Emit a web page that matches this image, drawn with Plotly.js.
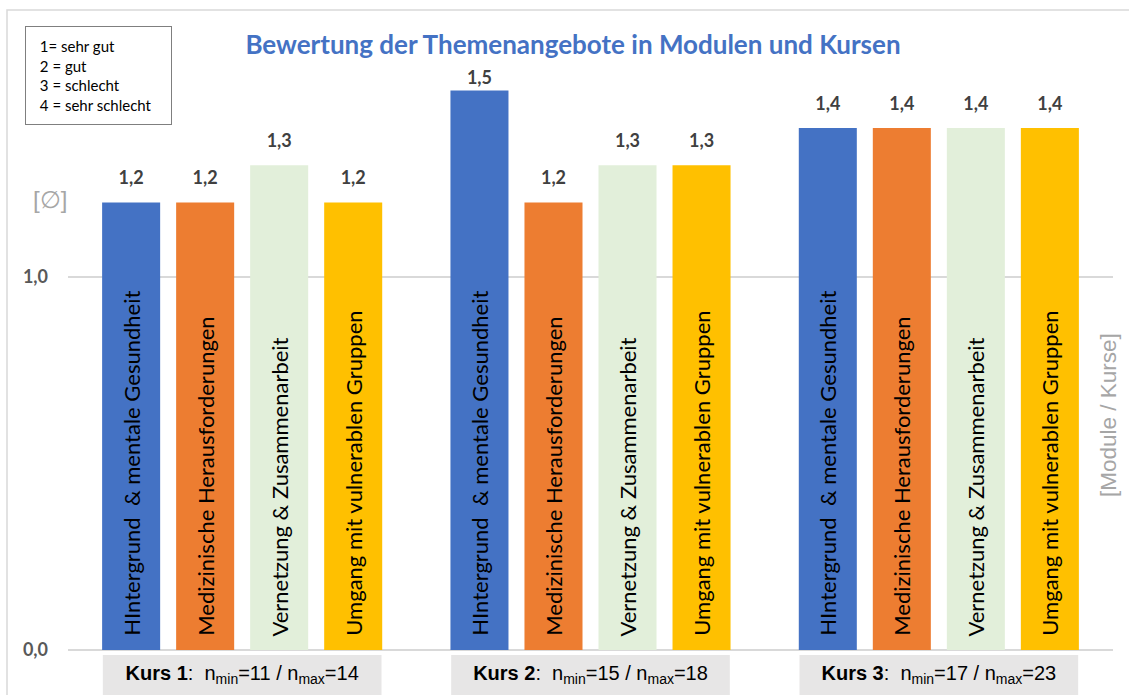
<!DOCTYPE html>
<html>
<head>
<meta charset="utf-8">
<script src="https://cdn.plot.ly/plotly-3.0.1.min.js"></script>
<style>html,body{margin:0;padding:0;background:#fff;}#chart{width:1129px;height:695px;}</style>
</head>
<body>
<div id="chart"></div>
<script>
// ---- data ----
const courses = ['Kurs 1', 'Kurs 2', 'Kurs 3'];
const nMin = [11, 15, 17];
const nMax = [14, 18, 23];
const topics = ['HIntergrund\u00a0 & mentale Gesundheit', 'Medizinische Herausforderungen', 'Vernetzung & Zusammenarbeit', 'Umgang mit vulnerablen Gruppen'];
const hintergrund = [1.2, 1.5, 1.4];
const medizinisch = [1.2, 1.2, 1.4];
const vernetzung = [1.3, 1.3, 1.4];
const umgang = [1.2, 1.3, 1.4];
const scaleLines = ['1= sehr gut', '2 = gut', '3 = schlecht', '4 = sehr schlecht'];
const chartTitle = 'Bewertung der Themenangebote in Modulen und Kursen';
const yTitle = '[\u2205]';
const xTitle = '[Module / Kurse]';

// ---- styling ----
const series = [hintergrund, medizinisch, vernetzung, umgang];
const colors = ['#4472c4', '#ed7d31', '#e2efda', '#ffc000'];
const calibri = 'Lato, Carlito, Calibri, sans-serif';
const arial = '"Liberation Sans", Arial, sans-serif';
const maxVal = Math.max(...series.flat());

const traces = [];
series.forEach((vals, i) => {
  traces.push({
    type: 'bar', x: courses, y: vals, xaxis: 'x', yaxis: 'y',
    marker: {color: colors[i], line: {width: 0}},
    text: courses.map(() => '\u00a0\u00a0' + topics[i]),
    textposition: 'inside', insidetextanchor: 'start', textangle: -90,
    insidetextfont: {family: calibri, size: 22, color: '#000000'},
    constraintext: 'none',
    hoverinfo: 'skip', showlegend: false
  });
});
// value labels: normal labels sit a bit higher (overlay y2); the tallest bar's label sits tight (overlay y3)
[['x2', 'y2', v => v < maxVal], ['x3', 'y3', v => v >= maxVal]].forEach(([xa, ya, keep]) => {
  series.forEach((vals, i) => {
    traces.push({
      type: 'bar', x: courses, y: vals, xaxis: xa, yaxis: ya,
      marker: {color: 'rgba(0,0,0,0)', line: {width: 0}},
      texttemplate: '%{y:.1f}', textposition: vals.map(v => keep(v) ? 'outside' : 'none'), cliponaxis: false,
      outsidetextfont: {family: calibri, size: 18, color: '#404040', weight: 'bold'},
      constraintext: 'none',
      hoverinfo: 'skip', showlegend: false
    });
  });
});

const tickText = courses.map((c, i) => '<b>' + c + '</b>:\u00a0 n<sub>min</sub>=' + nMin[i] + ' / n<sub>max</sub>=' + nMax[i]);

const L = 68, R = 16, T = 16, B = 45, W = 1129, H = 695;
const pw = W - L - R, ph = H - T - B;
const px = x => (x - L) / pw;
const py = y => (H - B - y) / ph;

const shapes = courses.map((c, i) => ({
  type: 'rect', xref: 'x', yref: 'paper', x0: i - 0.4, x1: i + 0.4, y0: py(700), y1: py(655),
  fillcolor: '#e7e6e6', line: {width: 0}, layer: 'below'
}));
shapes.push({type: 'rect', xref: 'paper', yref: 'paper', x0: px(7), x1: px(1140), y0: py(705), y1: py(10),
  line: {color: '#d9d9d9', width: 1.5}, fillcolor: 'rgba(0,0,0,0)', layer: 'below'});

const catAxis = {type: 'category', categoryarray: courses, range: [-0.5, 2.5], overlaying: 'x', visible: false, fixedrange: true};

const layout = {
  width: W, height: H,
  margin: {l: L, r: R, t: T, b: B},
  paper_bgcolor: '#ffffff', plot_bgcolor: 'rgba(0,0,0,0)',
  separators: ',.',
  barmode: 'group', bargap: 0.15, bargroupgap: 0.216,
  title: {text: '<b>' + chartTitle + '</b>', font: {family: calibri, size: 26, color: '#4472c4'},
          x: 573 / W, xanchor: 'center', y: 1 - 45 / H, yanchor: 'middle', xref: 'container', yref: 'container'},
  xaxis: {type: 'category', categoryarray: courses, range: [-0.5, 2.5], showgrid: false, zeroline: false, showline: false,
          tickvals: courses, ticktext: tickText, ticks: '', ticklabelstandoff: 9,
          tickfont: {family: arial, size: 20, color: '#000000'}, fixedrange: true},
  xaxis2: Object.assign({}, catAxis),
  xaxis3: Object.assign({}, catAxis),
  yaxis: {range: [0, 1.7], dtick: 1, tick0: 0, tickformat: '.1f', showgrid: true, gridcolor: '#d9d9d9', gridwidth: 1.5,
          zeroline: true, zerolinecolor: '#d9d9d9', zerolinewidth: 2, showline: false, ticks: '', ticklabelstandoff: 19,
          tickfont: {family: calibri, size: 18, color: '#595959', weight: 'bold'}, fixedrange: true},
  yaxis2: {range: [-0.03, 1.67], overlaying: 'y', visible: false, fixedrange: true},
  yaxis3: {range: [0, 1.7], overlaying: 'y', visible: false, fixedrange: true},
  shapes: shapes,
  annotations: [
    {xref: 'paper', yref: 'paper', x: px(25), y: py(26), xanchor: 'left', yanchor: 'top',
     text: scaleLines.map(s => '\u00a0' + s).join('<br>'), align: 'left', showarrow: false,
     font: {family: calibri, size: 15, color: '#000000'},
     bordercolor: '#7f7f7f', borderwidth: 1, borderpad: 10, width: 125, bgcolor: '#ffffff'},
    {xref: 'paper', yref: 'paper', x: px(50), y: py(200), xanchor: 'center', yanchor: 'middle',
     text: yTitle, showarrow: false, font: {family: arial, size: 24, color: '#a6a6a6'}},
    {xref: 'paper', yref: 'paper', x: px(1108), y: py(415), xanchor: 'center', yanchor: 'middle',
     text: xTitle, textangle: -90, showarrow: false, font: {family: arial, size: 22.5, color: '#a6a6a6'}}
  ]
};

Plotly.newPlot('chart', traces, layout, {displayModeBar: false, staticPlot: true});
</script>
</body>
</html>
